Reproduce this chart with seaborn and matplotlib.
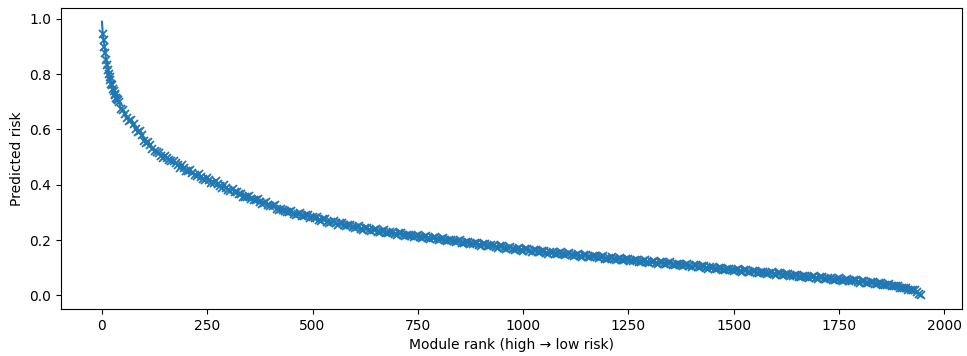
import matplotlib
matplotlib.use("Agg")
import matplotlib.pyplot as plt
import numpy as np
import pandas as pd
import seaborn as sns

# ---- data (rank -> predicted risk) ----
# top of the ranking, every 2nd module
head_ranks = list(range(0, 42, 2))
head_risk = [0.99, 0.945, 0.925, 0.90, 0.875, 0.85, 0.835, 0.815, 0.80, 0.79,
             0.78, 0.765, 0.76, 0.745, 0.74, 0.73, 0.725, 0.715, 0.71, 0.705,
             0.70]

# rest of the ranking, modules 50, 60, ... 1940
tail_ranks = list(range(50, 1950, 10))
tail_risk = [
    0.67, 0.64, 0.635, 0.60, 0.595, 0.56, 0.555, 0.53, 0.52, 0.505,
    0.505, 0.49, 0.485, 0.472, 0.47, 0.45, 0.455, 0.437, 0.44, 0.42,
    0.425, 0.405, 0.415, 0.395, 0.40, 0.38, 0.383, 0.372, 0.368, 0.355,
    0.36, 0.345, 0.35, 0.33, 0.338, 0.322, 0.325, 0.31, 0.31, 0.30,
    0.305, 0.29, 0.298, 0.287, 0.29, 0.282, 0.285, 0.27, 0.275, 0.262,
    0.27, 0.255, 0.263, 0.252, 0.256, 0.244, 0.25, 0.238, 0.243, 0.234,
    0.24, 0.228, 0.235, 0.224, 0.23, 0.218, 0.226, 0.216, 0.22, 0.211,
    0.218, 0.207, 0.213, 0.204, 0.21, 0.2, 0.206, 0.197, 0.201, 0.192,
    0.2, 0.188, 0.194, 0.185, 0.19, 0.18, 0.186, 0.177, 0.182, 0.172,
    0.179, 0.169, 0.175, 0.165, 0.17, 0.162, 0.168, 0.158, 0.163, 0.155,
    0.162, 0.151, 0.158, 0.149, 0.155, 0.146, 0.152, 0.144, 0.149, 0.14,
    0.147, 0.137, 0.143, 0.135, 0.141, 0.131, 0.137, 0.129, 0.135, 0.126,
    0.133, 0.124, 0.129, 0.121, 0.127, 0.118, 0.124, 0.115, 0.12, 0.112,
    0.119, 0.109, 0.115, 0.107, 0.113, 0.104, 0.109, 0.101, 0.106, 0.097,
    0.104, 0.094, 0.1, 0.092, 0.097, 0.089, 0.095, 0.086, 0.091, 0.083,
    0.089, 0.08, 0.085, 0.078, 0.083, 0.074, 0.08, 0.072, 0.077, 0.069,
    0.075, 0.066, 0.071, 0.064, 0.069, 0.06, 0.066, 0.058, 0.062, 0.055,
    0.061, 0.052, 0.058, 0.05, 0.055, 0.046, 0.052, 0.044, 0.049, 0.041,
    0.046, 0.036, 0.041, 0.032, 0.035, 0.026, 0.028, 0.018, 0.02, 0.003,
]

# in-between modules 45, 55, ... 1945
mid_ranks = list(range(45, 1950, 10))
mid_risk = [
    0.675,
    0.655, 0.632, 0.62, 0.592, 0.58, 0.552, 0.545, 0.522, 0.515, 0.498,
    0.498, 0.485, 0.48, 0.462, 0.46, 0.448, 0.444, 0.43, 0.428, 0.418,
    0.418, 0.405, 0.404, 0.39, 0.39, 0.378, 0.372, 0.368, 0.357, 0.354,
    0.35, 0.345, 0.337, 0.333, 0.326, 0.322, 0.314, 0.312, 0.304, 0.302,
    0.296, 0.295, 0.288, 0.289, 0.281, 0.28, 0.274, 0.276, 0.266, 0.267,
    0.26, 0.262, 0.253, 0.254, 0.247, 0.248, 0.241, 0.244, 0.236, 0.238,
    0.23, 0.234, 0.226, 0.229, 0.222, 0.224, 0.219, 0.22, 0.214, 0.216,
    0.21, 0.212, 0.206, 0.209, 0.202, 0.205, 0.199, 0.2, 0.195, 0.197,
    0.191, 0.193, 0.187, 0.189, 0.183, 0.185, 0.18, 0.181, 0.175, 0.178,
    0.171, 0.173, 0.167, 0.169, 0.164, 0.166, 0.16, 0.163, 0.157, 0.16,
    0.154, 0.156, 0.151, 0.153, 0.148, 0.15, 0.145, 0.147, 0.142, 0.145,
    0.139, 0.141, 0.137, 0.139, 0.133, 0.136, 0.13, 0.133, 0.128, 0.131,
    0.125, 0.128, 0.122, 0.125, 0.12, 0.122, 0.116, 0.119, 0.114, 0.117,
    0.111, 0.114, 0.108, 0.111, 0.105, 0.108, 0.102, 0.105, 0.099, 0.102,
    0.096, 0.099, 0.093, 0.096, 0.09, 0.093, 0.087, 0.09, 0.085, 0.087,
    0.082, 0.085, 0.079, 0.082, 0.076, 0.079, 0.073, 0.076, 0.07, 0.073,
    0.068, 0.07, 0.065, 0.067, 0.062, 0.065, 0.059, 0.062, 0.057, 0.06,
    0.054, 0.057, 0.051, 0.054, 0.048, 0.051, 0.045, 0.048, 0.042, 0.045,
    0.038, 0.039, 0.033, 0.034, 0.027, 0.027, 0.02, 0.019, 0.011, 0.0,
]

df = pd.DataFrame({"rank": head_ranks + tail_ranks + mid_ranks,
                   "risk": head_risk + tail_risk + mid_risk})
df = df.sort_values("rank").reset_index(drop=True)

# ---- plot ----
fig, ax = plt.subplots(figsize=(9.67, 3.56), dpi=100)
fig.subplots_adjust(left=61 / 967, right=962 / 967, top=1 - 8 / 356, bottom=1 - 309 / 356)

# first point is drawn as bare line end (no marker), like the reference
sns.lineplot(data=df, x="rank", y="risk", ax=ax, color="#1f77b4",
             marker="x", markersize=6, markeredgewidth=1.3,
             markeredgecolor="#1f77b4", linewidth=1.5,
             markevery=slice(1, None))

ax.set_xlabel("Module rank (high \u2192 low risk)")
ax.set_ylabel("Predicted risk")

fig.savefig("out.png", dpi=100)
